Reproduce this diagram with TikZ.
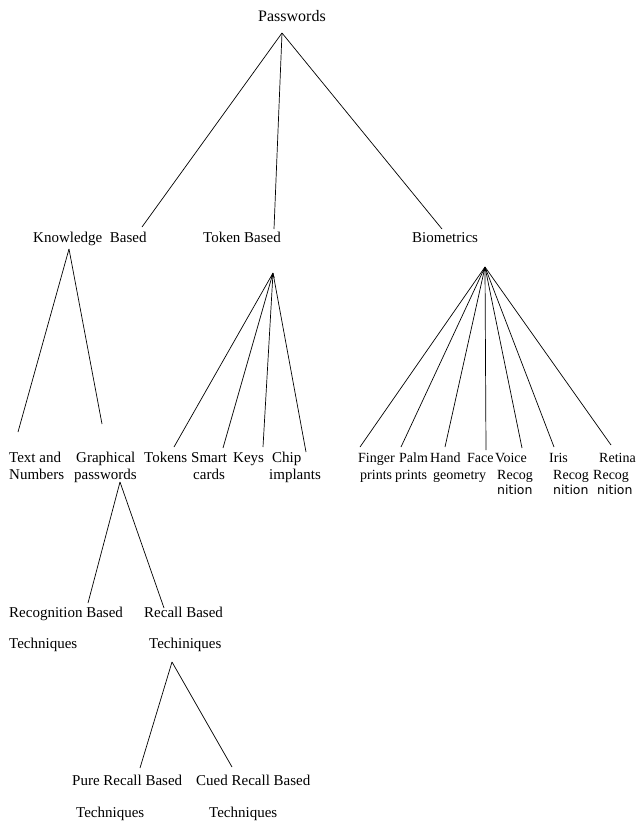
\documentclass[tikz,border=0pt]{standalone}
\usepackage{fontspec}
\setmainfont{Liberation Serif}
\newfontfamily\nitfont{DejaVu Sans}
\usetikzlibrary{arrows.meta}

\begin{document}
\begin{tikzpicture}[x=1pt,y=-1pt,
    lbl/.style={anchor=base west,inner sep=0pt,font=\fontsize{15}{17}\selectfont},
    lbb/.style={anchor=base west,inner sep=0pt,font=\fontsize{14}{16}\selectfont},
    lbs/.style={anchor=base west,inner sep=0pt,font=\nitfont\fontsize{12.5}{14}\selectfont},
    edge/.style={line width=0.7pt},
    tip/.style={line width=0.7pt,-{Stealth[length=5pt,width=4pt]}}]
      \useasboundingbox (0,0) rectangle (639,822);
      % top level
      \node[lbl,font=\fontsize{16}{18}\selectfont] (pw) at (258,21) {Passwords};
      \node[lbl] (kb) at (33,242) {Knowledge \ Based};
      \node[lbl] (tb) at (203,242) {Token Based};
      \node[lbl] (bm) at (412,242) {Biometrics};
      \coordinate (pwtop) at (282,33);
      \coordinate (kbend) at (142,227);
      \coordinate (tbend) at (274,229);
      \coordinate (bmend) at (442,229);
      \draw [edge] (pwtop) -- (kbend);
      \draw [edge] (pwtop) -- (tbend);
      \draw [edge] (pwtop) -- (bmend);
      % knowledge based
      \node[lbl] (tn1) at (9,462) {Text and};
      \node[lbl] (tn2) at (9,479) {Numbers};
      \node[lbl] (gp1) at (76,462) {Graphical};
      \node[lbl] (gp2) at (74,479) {passwords};
      \coordinate (kbtop) at (69,249);
      \coordinate (tnend) at (18,432);
      \coordinate (gpend) at (102,424);
      \draw [edge] (kbtop) -- (tnend);
      \draw [edge] (kbtop) -- (gpend);
      % token based
      \node[lbl] (tk1) at (144,462) {Tokens};
      \node[lbl] (sc1) at (191,462) {Smart};
      \node[lbl] (sc2) at (193,479) {cards};
      \node[lbl] (ky1) at (233,462) {Keys};
      \node[lbl] (ch1) at (272,462) {Chip};
      \node[lbl] (ch2) at (269,479) {implants};
      \coordinate (tbtop) at (273,273);
      \coordinate (tkend) at (174,447);
      \coordinate (scend) at (223,448);
      \coordinate (kyend) at (263,447);
      \coordinate (chend) at (306,452);
      \draw [edge] (tbtop) -- (tkend);
      \draw [edge] (tbtop) -- (scend);
      \draw [tip] (kyend) -- (tbtop);
      \draw [edge] (tbtop) -- (chend);
      % biometrics
      \node[lbb] (fp1) at (358,462) {Finger};
      \node[lbb] (fp2) at (360,479) {prints};
      \node[lbb] (pp1) at (399,462) {Palm};
      \node[lbb] (pp2) at (395,479) {prints};
      \node[lbb] (hg1) at (430,462) {Hand};
      \node[lbb] (hg2) at (433,479) {geometry};
      \node[lbb] (fc1) at (467,462) {Face};
      \node[lbb] (vr1) at (495,462) {Voice};
      \node[lbb] (vr2) at (497,479) {Recog};
      \node[lbs] (vr3) at (497,494) {nition};
      \node[lbb] (ir1) at (549,462) {Iris};
      \node[lbb] (ir2) at (553,479) {Recog};
      \node[lbs] (ir3) at (553,494) {nition};
      \node[lbb] (rt1) at (599,462) {Retina};
      \node[lbb] (rt2) at (593,479) {Recog};
      \node[lbs] (rt3) at (597,494) {nition};
      \coordinate (bmtop) at (485,267);
      \coordinate (fpend) at (360,447);
      \coordinate (ppend) at (401,447);
      \coordinate (hgend) at (445,447);
      \coordinate (fcend) at (486,450);
      \coordinate (vrend) at (522,448);
      \coordinate (irend) at (554,447);
      \coordinate (rtend) at (611,445);
      \draw [edge] (bmtop) -- (fpend);
      \draw [edge] (bmtop) -- (ppend);
      \draw [edge] (bmtop) -- (hgend);
      \draw [tip] (fcend) -- (bmtop);
      \draw [edge] (bmtop) -- (vrend);
      \draw [edge] (bmtop) -- (irend);
      \draw [edge] (bmtop) -- (rtend);
      % graphical passwords
      \node[lbl] (rb1) at (9,617) {Recognition Based};
      \node[lbl] (rb2) at (9,648) {Techniques};
      \node[lbl] (rc1) at (144,617) {Recall Based};
      \node[lbl] (rc2) at (149,648) {Techiniques};
      \coordinate (gptop) at (120,482);
      \coordinate (rbend) at (88,603);
      \coordinate (rcend) at (164,608);
      \draw [edge] (gptop) -- (rbend);
      \draw [edge] (gptop) -- (rcend);
      % recall based
      \node[lbl] (pr1) at (72,785) {Pure Recall Based};
      \node[lbl] (pr2) at (76,817) {Techniques};
      \node[lbl] (cr1) at (196,785) {Cued Recall Based};
      \node[lbl] (cr2) at (209,817) {Techniques};
      \coordinate (rctop) at (172,662);
      \coordinate (prend) at (140,768);
      \coordinate (crend) at (232,767);
      \draw [edge] (rctop) -- (prend);
      \draw [edge] (rctop) -- (crend);
\end{tikzpicture}
\end{document}
